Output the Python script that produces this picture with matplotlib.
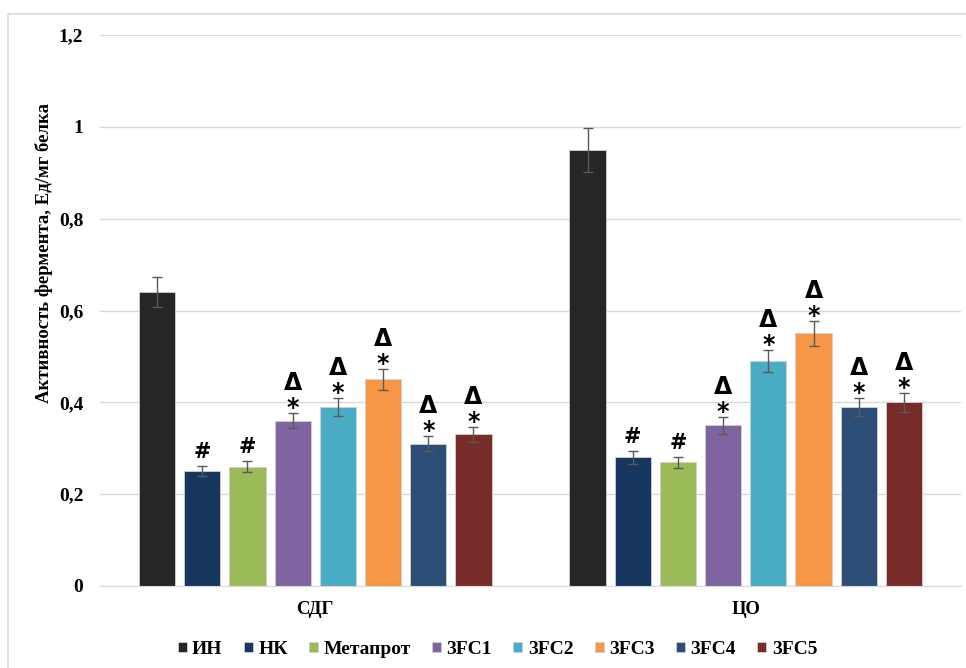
import numpy as np
import matplotlib.pyplot as plt
from matplotlib.patches import Rectangle

groups = ['СДГ', 'ЦО']
series = ['ИН', 'НК', 'Метапрот', '3FC1', '3FC2', '3FC3', '3FC4', '3FC5']
colors = ['#262626', '#17375E', '#9BBB59', '#8064A2', '#4BACC6', '#F79646', '#2C4D75', '#772C2A']

# values per series: [СДГ, ЦО]
means = [
    [0.64, 0.95],
    [0.25, 0.28],
    [0.26, 0.27],
    [0.36, 0.35],
    [0.39, 0.49],
    [0.45, 0.55],
    [0.31, 0.39],
    [0.33, 0.40],
]
errs = [
    [0.032, 0.048],
    [0.011, 0.014],
    [0.012, 0.012],
    [0.016, 0.018],
    [0.019, 0.024],
    [0.023, 0.028],
    [0.016, 0.019],
    [0.017, 0.020],
]
# significance marks per series
marks = ['', '#', '#', '*Δ', '*Δ', '*Δ', '*Δ', '*Δ']

serif = ['Liberation Serif', 'DejaVu Serif']
sans = ['DejaVu Sans']

fig = plt.figure(figsize=(9.66, 6.68), dpi=100)
ax = fig.add_axes([100/966, 1-586/668, 861/966, 551/668])

x = np.arange(len(groups))
slot = 0.105
width = 0.084
for i, name in enumerate(series):
    xs = x + (i - 3.5) * slot
    ax.bar(xs, means[i], width, color=colors[i], edgecolor='#d0d0d0', linewidth=0.6,
           label=name, zorder=2)
    ax.errorbar(xs, means[i], yerr=errs[i], fmt='none', ecolor='#595959',
                elinewidth=1, capsize=3.5, capthick=1, zorder=3)
    for j in range(len(groups)):
        top = means[i][j] + errs[i][j]
        if marks[i] == '#':
            ax.annotate('#', (xs[j], top), xytext=(0, 8), textcoords='offset pixels',
                        ha='center', va='baseline', fontsize=15, fontweight='bold', family=sans)
        elif marks[i]:
            ax.annotate('*', (xs[j], top), xytext=(0, -2), textcoords='offset pixels',
                        ha='center', va='baseline', fontsize=17, fontweight='bold', family=sans)
            ax.annotate('Δ', (xs[j], top), xytext=(0, 23), textcoords='offset pixels',
                        ha='center', va='baseline', fontsize=17, fontweight='bold', family=sans)

ax.set_xlim(-0.5, 1.5)
ax.set_ylim(0, 1.2)
ax.set_yticks([0, 0.2, 0.4, 0.6, 0.8, 1.0, 1.2])
ax.set_yticklabels(['0', '0,2', '0,4', '0,6', '0,8', '1', '1,2'],
                   fontsize=14, fontweight='bold', family=serif)
ax.set_xticks(x)
ax.set_xticklabels(groups, fontsize=13.5, fontweight='bold', family=serif)
ax.tick_params(axis='both', length=0)
ax.tick_params(axis='y', pad=12)
ax.tick_params(axis='x', pad=11)
ax.grid(axis='y', color='#d9d9d9', linewidth=1, zorder=0)
ax.set_axisbelow(True)
for s in ['top', 'right', 'left']:
    ax.spines[s].set_visible(False)
ax.spines['bottom'].set_color('#d9d9d9')

fig.text(44/966, 1-253/668, 'Активность фермента, Ед/мг белка', rotation=90,
         ha='center', va='center', fontsize=13.5, fontweight='bold', family=serif)

ax.legend(loc='center', bbox_to_anchor=(0.515, 0.028), bbox_transform=fig.transFigure,
          ncol=8, frameon=False, handlelength=0.46, handleheight=0.46, handletextpad=0.28,
          columnspacing=1.1, prop={'family': serif, 'weight': 'bold', 'size': 14})

fig.patches.append(Rectangle((8/966, -0.1), 1.2, 1.1 - 14/668, transform=fig.transFigure,
                             fill=False, edgecolor='#d9d9d9', linewidth=1.2))

fig.savefig('out.png', dpi=100)
